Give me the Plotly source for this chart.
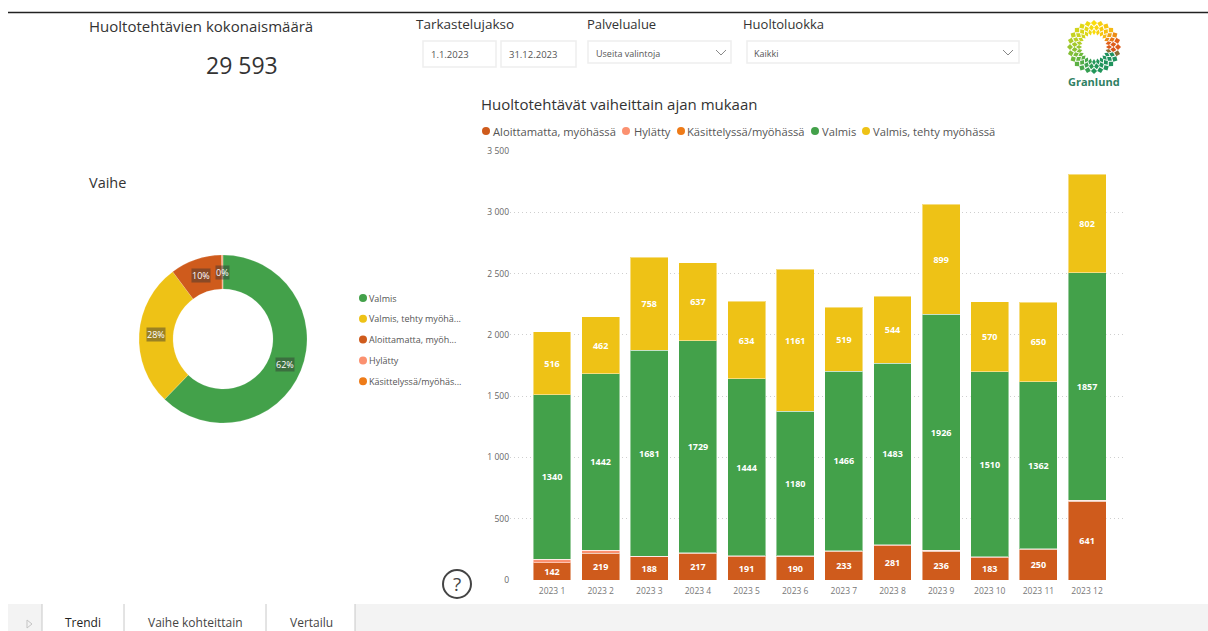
import math
import plotly.graph_objects as go

W, H = 1208, 631
FONT = "Open Sans"

months = ["2023 1", "2023 2", "2023 3", "2023 4", "2023 5", "2023 6",
          "2023 7", "2023 8", "2023 9", "2023 10", "2023 11", "2023 12"]
aloittamatta = [142, 219, 188, 217, 191, 190, 233, 281, 236, 183, 250, 641]
hylatty = [28, 22, 5, 5, 5, 5, 5, 5, 5, 5, 5, 8]
kasittelyssa = [1, 1, 1, 1, 1, 1, 1, 1, 1, 1, 1, 1]
valmis = [1340, 1442, 1681, 1729, 1444, 1180, 1466, 1483, 1926, 1510, 1362, 1857]
myohassa = [516, 462, 758, 637, 634, 1161, 519, 544, 899, 570, 650, 802]

y_ticks = [0, 500, 1000, 1500, 2000, 2500, 3000, 3500]
y_labels = ["0", "500", "1 000", "1 500", "2 000", "2 500", "3 000", "3 500"]

donut_names = ["Valmis", "Valmis, tehty myöhässä", "Aloittamatta, myöhässä", "Hylätty", "Käsittelyssä/myöhässä"]
donut_legend = ["Valmis", "Valmis, tehty myöhä...", "Aloittamatta, myöh...", "Hylätty", "Käsittelyssä/myöhäs..."]
donut_values = [18420, 8152, 2940, 60, 21]
donut_text = ["62%", "28%", "10%", "0%", ""]

C_GREEN, C_YELLOW, C_RED, C_PEACH, C_ORANGE = "#43a14a", "#eec216", "#cf5b1c", "#fb9170", "#ee7b18"
donut_colors = [C_GREEN, C_YELLOW, C_RED, C_PEACH, C_ORANGE]


def X(x):
    return x / W


def Y(y):
    return 1 - y / H


shapes, annos = [], []


def txt(x, y, s, size=12, color="#444", anchor="left", **kw):
    annos.append(dict(xref="paper", yref="paper", x=X(x), y=Y(y), text=s, showarrow=False,
                      xanchor=anchor, yanchor="middle", borderpad=0,
                      font=dict(family=kw.pop("family", FONT), size=size, color=color), **kw))


def rect(x0, y0, x1, y1, fill="rgba(0,0,0,0)", line="rgba(0,0,0,0)", lw=1, layer="above"):
    shapes.append(dict(type="rect", xref="paper", yref="paper", x0=X(x0), x1=X(x1), y0=Y(y0), y1=Y(y1),
                       fillcolor=fill, line=dict(color=line, width=lw), layer=layer))


def seg(x0, y0, x1, y1, color="#888", lw=1):
    shapes.append(dict(type="line", xref="paper", yref="paper", x0=X(x0), x1=X(x1), y0=Y(y0), y1=Y(y1),
                       line=dict(color=color, width=lw)))


def dot(x, y, r, color, line="rgba(0,0,0,0)", lw=0):
    shapes.append(dict(type="circle", xref="paper", yref="paper", x0=X(x - r), x1=X(x + r),
                       y0=Y(y + r), y1=Y(y - r), fillcolor=color, line=dict(color=line, width=lw)))


def path(points, color=None, line=None, lw=1, close=True):
    d = "M " + " L ".join(f"{X(px):.5f},{Y(py):.5f}" for px, py in points) + (" Z" if close else "")
    shapes.append(dict(type="path", xref="paper", yref="paper", path=d,
                       fillcolor=color or "rgba(0,0,0,0)",
                       line=dict(color=line or "rgba(0,0,0,0)", width=lw)))


fig = go.Figure()

# Stacked bars
EDGE = "rgba(255,255,255,0.45)"
series = [("Aloittamatta, myöhässä", aloittamatta, C_RED, True),
          ("Hylätty", hylatty, C_PEACH, False),
          ("Käsittelyssä/myöhässä", kasittelyssa, C_ORANGE, False),
          ("Valmis", valmis, C_GREEN, True),
          ("Valmis, tehty myöhässä", myohassa, C_YELLOW, True)]
for name, vals, col, lab in series:
    fig.add_trace(go.Bar(
        x=months, y=vals, name=name, marker=dict(color=col, line=dict(color=EDGE, width=1)),
        text=vals if lab else None, textposition="inside" if lab else "none",
        insidetextanchor="middle", textangle=0, constraintext="none",
        textfont=dict(family=FONT, size=9, color="white", weight="bold"),
        showlegend=False, hoverinfo="skip"))

# Donut
fig.add_trace(go.Pie(
    labels=donut_names, values=donut_values, hole=0.595, sort=False, direction="clockwise", rotation=0,
    marker=dict(colors=donut_colors, line=dict(color="rgba(255,255,255,0.3)", width=0.5)),
    textinfo="none", showlegend=False, hoverinfo="skip",
    domain=dict(x=[X(139), X(307)], y=[Y(423), Y(255)])))

# Donut value labels, placed from the slice mid-angles
CX, CY, RM = 223, 339, 67
total = sum(donut_values)
acc = 0
for v, s in zip(donut_values, donut_text):
    mid = (acc + v / 2) / total * 2 * math.pi
    acc += v
    if s:
        txt(CX + RM * math.sin(mid), CY - RM * math.cos(mid), s, size=9, color="white", anchor="center",
            bgcolor="rgba(50,50,50,0.45)")

# Donut legend
for i, (name, col) in enumerate(zip(donut_legend, donut_colors)):
    y = 298 + i * 20.8
    dot(363, y, 4, col)
    txt(368, y, name, size=9, color="#555")

# Bar legend
for dx, tx, name, col in [(486, 491.5, "Aloittamatta, myöhässä", C_RED), (626, 632.5, "Hylätty", C_PEACH),
                          (681, 686.5, "Käsittelyssä/myöhässä", C_ORANGE), (815, 820.5, "Valmis", C_GREEN),
                          (866, 871.5, "Valmis, tehty myöhässä", C_YELLOW)]:
    dot(dx, 131, 4, col)
    txt(tx, 131, name, size=11.2, color="#555")

# Titles
txt(88, 26, "Huoltotehtävien kokonaismäärä", size=15, color="#333")
txt(242, 65, "29 593", size=23, color="#333", anchor="center")
txt(88, 183, "Vaihe", size=14.5, color="#333")
txt(480, 104, "Huoltotehtävät vaiheittain ajan mukaan", size=15, color="#333")
txt(415, 24, "Tarkastelujakso", size=13.5, color="#333")
txt(586, 24, "Palvelualue", size=13, color="#333")
txt(742, 24, "Huoltoluokka", size=13, color="#333")

# Filters
BOX = "#eeeeee"
rect(423, 41, 496, 67, line=BOX, lw=1.5)
rect(501, 41, 576, 67, line=BOX, lw=1.5)
rect(588, 41, 731, 63, line=BOX, lw=1.5)
rect(747, 41, 1019, 63, line=BOX, lw=1.5)
txt(430, 54, "1.1.2023", size=9.5, color="#555")
txt(508, 54, "31.12.2023", size=9.5, color="#555")
txt(595, 53, "Useita valintoja", size=9, color="#555")
txt(753, 53, "Kaikki", size=9, color="#555")
for cx in (721, 1008):
    path([(cx - 5, 50), (cx, 55), (cx + 5, 50)], line="#888", lw=1, close=False)

# Logo
stops = [(0, (250, 220, 10)), (45, (245, 185, 20)), (75, (225, 95, 25)), (100, (215, 85, 25)),
         (112, (30, 145, 95)), (180, (35, 150, 90)), (240, (110, 185, 60)),
         (300, (195, 210, 35)), (360, (250, 220, 10))]


def logo_col(a):
    for (a0, c0), (a1, c1) in zip(stops, stops[1:]):
        if a0 <= a <= a1:
            t = (a - a0) / (a1 - a0)
            return "rgb(%d,%d,%d)" % tuple(round(c0[k] + (c1[k] - c0[k]) * t) for k in range(3))
    return "rgb(250,220,10)"


LX, LY = 1094, 47
for ring, r in enumerate((15, 19.5, 24)):
    for k in range(24):
        a = (k + (ring % 2) * 0.5) * 15
        t = math.radians(a)
        ux, uy = math.sin(t), -math.cos(t)
        vx, vy = -uy, ux
        cx, cy = LX + r * ux, LY + r * uy
        hw = 1.9 + ring * 0.6
        path([(cx + 3 * ux, cy + 3 * uy), (cx + hw * vx, cy + hw * vy),
              (cx - 3 * ux, cy - 3 * uy), (cx - hw * vx, cy - hw * vy)], color=logo_col(a))
txt(1094, 82, "<b>Granlund</b>", size=11, color="#2f8063", anchor="center")

# Help icon
dot(457, 584, 14, "white", line="#444", lw=2)
txt(457, 584, "?", size=19, color="#444", anchor="center")

# Top rule and bottom tab strip
seg(8, 12.5, 1208, 12.5, color="#222", lw=1.5)
rect(8, 604, 1208, 631, fill="#f3f3f3")
rect(42, 604, 355, 631, fill="white")
for vx in (42, 124, 266, 355):
    seg(vx, 604, vx, 631, color="#c8c8c8", lw=1)
path([(27, 620), (27, 628), (32, 624)], line="#c4c4c4", lw=1)
txt(83, 622, "Trendi", size=12, color="#222", anchor="center")
txt(195, 622, "Vaihe kohteittain", size=12, color="#444", anchor="center")
txt(311, 622, "Vertailu", size=12, color="#444", anchor="center")

fig.update_layout(
    width=W, height=H, margin=dict(l=0, r=0, t=0, b=0, autoexpand=False), paper_bgcolor="white", plot_bgcolor="white",
    barmode="stack", bargap=0.22, showlegend=False, shapes=shapes, annotations=annos,
    font=dict(family=FONT),
    xaxis=dict(domain=[X(510), X(1125)], type="category", categoryorder="array", categoryarray=months,
               range=[-0.864, 11.78], showgrid=False, zeroline=False, showline=False,
               ticks="outside", ticklen=3, tickcolor="rgba(0,0,0,0)",
               tickfont=dict(size=8.5, color="#777", family=FONT)),
    yaxis=dict(domain=[Y(580), Y(151)], range=[0, 3500], tickvals=y_ticks, ticktext=y_labels,
               showgrid=True, gridcolor="#cfcfcf", griddash="1px 3px", gridwidth=1, zeroline=False, showline=False,
               ticks="", tickfont=dict(size=8.5, color="#666", family=FONT)),
)

fig.write_html("out.html", config=dict(displayModeBar=False), post_script="document.body.style.margin='0';")
